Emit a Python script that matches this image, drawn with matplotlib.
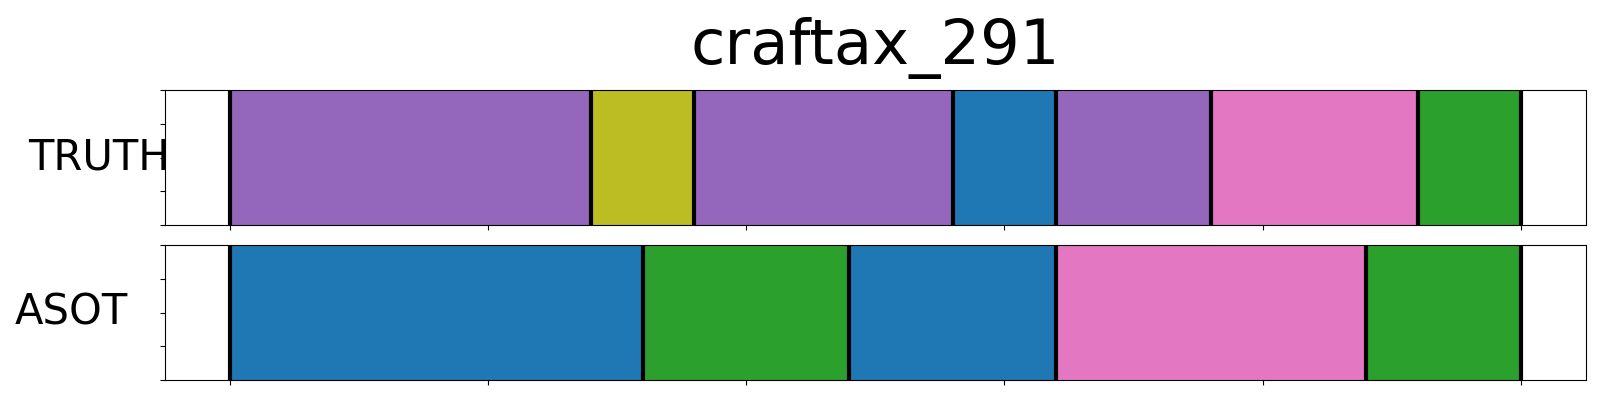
import matplotlib
matplotlib.use("Agg")
import matplotlib.pyplot as plt

title = "craftax_291"
row_names = ["TRUTH", "ASOT"]

truth_bounds = [0, 70, 90, 140, 160, 190, 230, 250]
truth_colors = ["#9467bd", "#bcbd22", "#9467bd", "#1f77b4", "#9467bd", "#e377c2", "#2ca02c"]

asot_bounds = [0, 80, 120, 160, 220, 250]
asot_colors = ["#1f77b4", "#2ca02c", "#1f77b4", "#e377c2", "#2ca02c"]

xticks = [0, 50, 100, 150, 200, 250]
yticks = [0, 0.25, 0.5, 0.75, 1.0]

fig = plt.figure(figsize=(16, 4), dpi=100)
left = 165 / 1600
width = (1585.5 - 165) / 1600
ax1 = fig.add_axes([left, 1 - 225 / 400, width, 135 / 400])
ax2 = fig.add_axes([left, 1 - 380 / 400, width, 135 / 400])

label_x = [(99 - 165) / 1420.5, (71 - 165) / 1420.5]

for ax, bounds, colors, name, lx in zip([ax1, ax2], [truth_bounds, asot_bounds],
                                        [truth_colors, asot_colors], row_names, label_x):
    for i, c in enumerate(colors):
        ax.axvspan(bounds[i], bounds[i + 1], ymin=0, ymax=1, facecolor=c, edgecolor=c, linewidth=0.5)
    for b in bounds:
        ax.axvline(b, color="black", linewidth=3)
    span = bounds[-1] - bounds[0]
    ax.set_xlim(bounds[0] - 0.05 * span, bounds[-1] + 0.05 * span)
    ax.set_ylim(0, 1)
    ax.set_xticks(xticks)
    ax.set_xticklabels([])
    ax.set_yticks(yticks)
    ax.set_yticklabels([])
    ax.set_ylabel(name, rotation=0, fontsize=30, ha="center", va="center")
    ax.yaxis.set_label_coords(lx, 0.5)

ax1.set_title(title, fontsize=45, pad=19)

fig.savefig("out.png", dpi=100)
